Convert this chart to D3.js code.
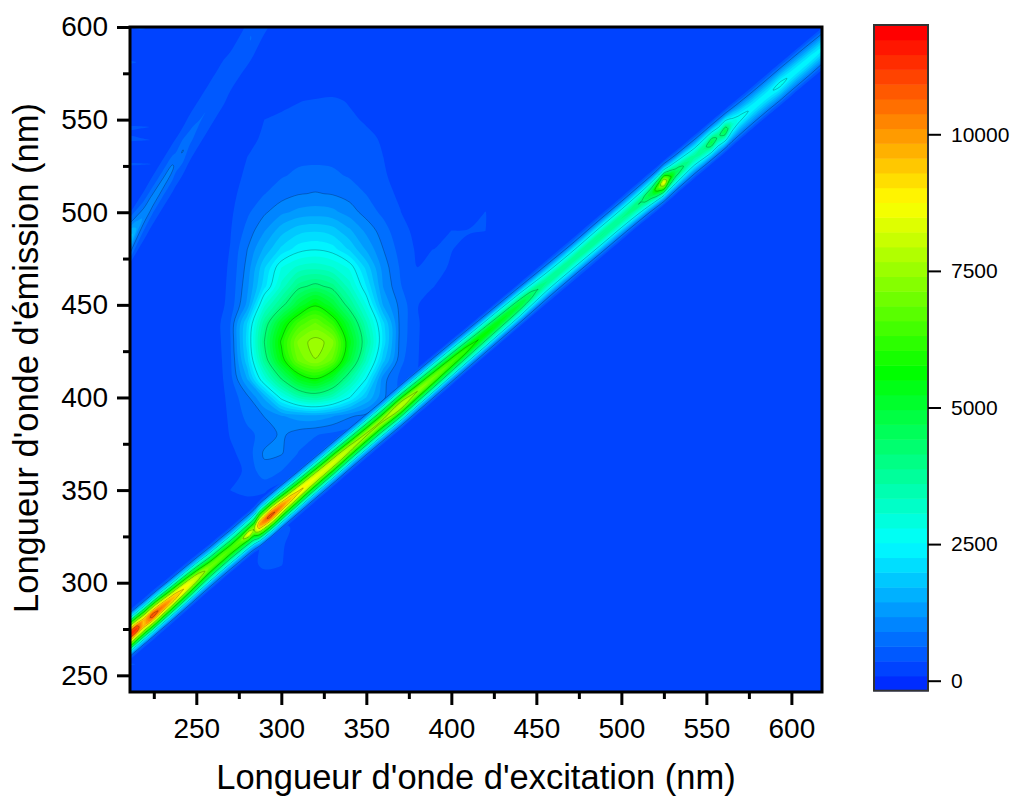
<!DOCTYPE html>
<html>
<head>
<meta charset="utf-8">
<script src="https://cdn.jsdelivr.net/npm/d3@7"></script>
<style>
    body { margin: 0; background: #fff; }
    text { font-family: "Liberation Sans", Arial, sans-serif; fill: #000; }
    .domain { display: none; }
</style>
</head>
<body>
<div id="chart"></div>
<script>
const xTicks = [250, 300, 350, 400, 450, 500, 550, 600];
const xMinorTicks = [225, 275, 325, 375, 425, 475, 525, 575];
const yTicks = [250, 300, 350, 400, 450, 500, 550, 600];
const yMinorTicks = [275, 325, 375, 425, 475, 525, 575];
const colorTicks = [0, 2500, 5000, 7500, 10000];
const paletteStops = ["#0000ff", "#00ffff", "#00ff00", "#ffff00", "#ff0000"];

// broad emission lobe, one row per emission wavelength, one column per excitation wavelength
const blobEx = [260, 270, 280, 290, 300, 310, 320, 330, 340, 350, 360, 370, 380, 390, 400, 410, 420, 430];
const blobEm = [570, 560, 550, 540, 530, 520, 510, 500, 490, 480, 470, 460, 450, 440, 430, 420, 410, 400, 390, 380, 370, 360, 350, 340, 330, 320, 310, 300];
const blobValues = [
    [0, 0, 0, 0, 100, 180, 200, 210, 170, 80, 0, 0, 0, 0, 0, 0, 0, 0],
    [0, 0, 60, 200, 300, 350, 380, 400, 340, 250, 60, 0, 0, 0, 0, 0, 0, 0],
    [0, 40, 200, 358, 400, 420, 430, 440, 400, 330, 150, 30, 0, 0, 0, 0, 0, 0],
    [0, 100, 280, 400, 450, 470, 480, 480, 450, 410, 330, 120, 20, 0, 0, 0, 0, 0],
    [0, 150, 358, 450, 520, 560, 570, 560, 510, 450, 358, 180, 50, 0, 0, 0, 0, 0],
    [20, 220, 420, 520, 600, 680, 700, 680, 600, 500, 400, 220, 100, 20, 0, 0, 0, 0],
    [40, 280, 480, 620, 760, 880, 920, 880, 780, 620, 460, 300, 120, 30, 0, 20, 120, 20],
    [60, 310, 580, 850, 1100, 1250, 1300, 1250, 1050, 780, 560, 370, 130, 40, 20, 100, 370, 60],
    [80, 340, 720, 1150, 1600, 1880, 1950, 1850, 1500, 1100, 750, 430, 300, 100, 362, 380, 362, 20],
    [150, 370, 900, 1500, 2050, 2400, 2500, 2380, 1950, 1400, 900, 520, 320, 362, 370, 270, 50, 0],
    [170, 400, 1000, 1950, 2800, 3150, 3250, 3100, 2750, 1900, 1050, 600, 360, 460, 320, 60, 0, 0],
    [180, 420, 1100, 2150, 3150, 4000, 4300, 4000, 3200, 2250, 1150, 650, 370, 360, 80, 0, 0, 0],
    [180, 450, 1250, 3000, 3950, 5000, 5700, 5000, 3900, 2800, 1400, 800, 380, 120, 0, 0, 0, 0],
    [170, 620, 2000, 3800, 5300, 6400, 6900, 6250, 4900, 3400, 2050, 800, 400, 110, 0, 0, 0, 0],
    [160, 600, 2100, 4150, 5850, 7200, 7550, 7250, 5400, 3750, 2150, 780, 390, 100, 0, 0, 0, 0],
    [150, 560, 1900, 3800, 5500, 6900, 7380, 6800, 5000, 3300, 1800, 700, 380, 90, 0, 0, 0, 0],
    [140, 520, 1450, 2900, 4150, 5300, 5750, 5000, 3700, 2500, 1000, 560, 360, 80, 0, 0, 0, 0],
    [120, 460, 820, 1500, 2650, 3400, 3700, 3300, 2550, 1700, 950, 520, 340, 70, 0, 0, 0, 0],
    [100, 420, 700, 910, 1150, 1300, 1350, 1200, 950, 800, 600, 440, 280, 50, 0, 0, 0, 0],
    [80, 380, 560, 720, 960, 760, 650, 560, 460, 300, 200, 100, 0, 0, 0, 0, 0, 0],
    [70, 300, 480, 950, 930, 620, 480, 350, 250, 100, 0, 0, 0, 0, 0, 0, 0, 0],
    [40, 230, 420, 800, 620, 460, 280, 100, 0, 0, 0, 0, 0, 0, 0, 0, 0, 0],
    [30, 360, 430, 400, 200, 80, 0, 0, 0, 0, 0, 0, 0, 0, 0, 0, 0, 0],
    [0, 180, 220, 150, 60, 0, 0, 0, 0, 0, 0, 0, 0, 0, 0, 0, 0, 0],
    [0, 0, 80, 450, 420, 300, 80, 0, 0, 0, 0, 0, 0, 0, 0, 0, 0, 0],
    [0, 0, 200, 420, 420, 100, 0, 0, 0, 0, 0, 0, 0, 0, 0, 0, 0, 0],
    [0, 0, 250, 420, 380, 60, 0, 0, 0, 0, 0, 0, 0, 0, 0, 0, 0, 0],
    [0, 0, 130, 200, 130, 0, 0, 0, 0, 0, 0, 0, 0, 0, 0, 0, 0, 0]
];

// faint streaks along the left edge of the map
const streakEx = [205, 211, 217, 223, 229];
const streakEm = [602, 599, 596, 585, 581, 577, 549, 546, 543, 539, 536, 529, 526, 523, 259, 256, 253];
const streakValues = [
    [0, 0, 0, 0, 0],
    [0, 300, 420, 300, 0],
    [0, 0, 0, 0, 0],
    [0, 0, 0, 0, 0],
    [450, 450, 300, 0, 0],
    [0, 0, 0, 0, 0],
    [0, 0, 0, 0, 0],
    [450, 450, 420, 350, 50],
    [300, 300, 200, 100, 0],
    [450, 450, 420, 360, 50],
    [0, 0, 0, 0, 0],
    [0, 0, 0, 0, 0],
    [450, 450, 420, 370, 60],
    [0, 0, 0, 0, 0],
    [0, 0, 0, 0, 0],
    [420, 420, 300, 0, 0],
    [0, 0, 0, 0, 0]
];

// main diagonal: crest position per column, then intensity across the crest
const ridgeEx = [205, 211, 215, 219, 224, 229, 235, 241, 247, 252, 258, 264, 270, 276, 281, 284, 287, 293, 298, 303, 309, 316, 323, 332, 342, 358, 370, 380, 389, 400, 415, 428, 440, 450, 456, 470, 487, 500, 512, 518, 522, 525, 528, 532, 538, 543, 549, 553, 557, 561, 565, 569, 577, 587, 593, 600, 610, 618, 625];
const ridgeEm = [267.3, 272, 275.1, 278.2, 282.1, 286, 290.6, 295.3, 300, 303.9, 308.5, 313.2, 317.8, 322.5, 326.4, 328.7, 331.1, 335.7, 339.6, 343.5, 348.1, 353.6, 359, 366, 373.8, 386.2, 395.5, 403.3, 410.3, 418.9, 430.5, 440.6, 449.9, 457.7, 462.4, 473.2, 486.5, 496.6, 505.9, 510.5, 513.6, 516, 518.3, 521.4, 526.1, 530, 534.6, 537.7, 540.8, 543.9, 547.1, 550.2, 556.4, 564.2, 568.8, 574.3, 582, 588.2, 593.7];
const ridgeOffsets = [-15, -12, -9, -6.2, -3.9, -1.7, 0, 1.7, 3.9, 6.2, 9, 12, 15];
const ridgeValues = [
    [690, 2530, 5750, 8280, 10810, 11500, 10810, 8280, 5750, 2530, 690],
    [690, 2530, 5750, 8280, 10810, 11500, 10810, 8280, 5750, 2530, 690],
    [680, 2490, 5650, 8140, 10620, 11300, 10620, 8140, 5650, 2490, 680],
    [640, 2400, 5400, 7800, 9600, 9400, 9600, 7800, 5400, 2400, 640],
    [660, 2420, 5500, 7920, 10340, 11000, 10340, 7920, 5500, 2420, 660],
    [630, 2310, 5250, 7560, 9870, 10500, 9870, 7560, 5250, 2310, 630],
    [590, 2160, 4900, 7060, 9210, 9800, 9210, 7060, 4900, 2160, 590],
    [550, 2020, 4600, 6620, 8650, 9200, 8650, 6620, 4600, 2020, 550],
    [510, 1870, 4250, 6120, 7990, 8500, 7990, 6120, 4250, 1870, 510],
    [470, 1720, 3900, 5620, 7330, 7800, 7330, 5620, 3900, 1720, 470],
    [420, 1540, 3500, 5040, 6580, 7000, 6580, 5040, 3500, 1540, 420],
    [410, 1500, 3400, 4900, 6390, 6800, 6390, 4900, 3400, 1500, 410],
    [400, 1450, 3300, 4750, 6200, 6600, 6200, 4750, 3300, 1450, 400],
    [410, 1500, 3400, 4900, 6390, 6800, 6390, 4900, 3400, 1500, 410],
    [410, 1500, 3500, 5100, 7200, 8800, 7200, 5100, 3500, 1500, 410],
    [430, 1600, 3700, 5330, 6960, 7400, 6960, 5330, 3700, 1600, 430],
    [590, 2160, 4900, 7060, 9210, 9800, 9210, 7060, 4900, 2160, 590],
    [650, 2400, 5450, 7850, 10250, 10900, 10250, 7850, 5450, 2400, 650],
    [630, 2310, 5250, 7560, 9870, 10500, 9870, 7560, 5250, 2310, 630],
    [590, 2160, 4900, 7060, 9210, 9800, 9210, 7060, 4900, 2160, 590],
    [560, 2050, 4650, 6700, 8740, 9300, 8740, 6700, 4650, 2050, 560],
    [530, 1940, 4400, 6340, 8270, 8800, 8270, 6340, 4400, 1940, 530],
    [510, 1870, 4250, 6120, 7990, 8500, 7990, 6120, 4250, 1870, 510],
    [500, 1830, 4150, 5980, 7800, 8300, 7800, 5980, 4150, 1830, 500],
    [470, 1720, 3900, 5620, 7330, 7800, 7330, 5620, 3900, 1720, 470],
    [450, 1650, 3750, 5400, 7050, 7500, 7050, 5400, 3750, 1650, 450],
    [480, 1760, 4000, 5760, 7520, 8000, 7520, 5760, 4000, 1760, 480],
    [440, 1630, 3700, 5330, 6960, 7400, 6960, 5330, 3700, 1630, 440],
    [420, 1540, 3500, 5040, 6580, 7000, 6580, 5040, 3500, 1540, 420],
    [390, 1430, 3250, 4680, 6110, 6500, 6110, 4680, 3250, 1430, 390],
    [350, 1280, 2900, 4180, 5450, 5800, 5450, 4180, 2900, 1280, 350],
    [320, 1190, 2700, 3890, 5080, 5400, 5080, 3890, 2700, 1190, 320],
    [300, 1100, 2500, 3600, 4700, 5000, 4700, 3600, 2500, 1100, 300],
    [300, 1000, 2200, 3100, 3950, 4200, 3950, 3100, 2200, 1000, 300],
    [290, 950, 2050, 2900, 3670, 3900, 3670, 2900, 2050, 950, 290],
    [280, 900, 2000, 2800, 3570, 3800, 3570, 2800, 2000, 900, 280],
    [290, 950, 2050, 2900, 3670, 3900, 3670, 2900, 2050, 950, 290],
    [290, 950, 2050, 2900, 3670, 3900, 3670, 2900, 2050, 950, 290],
    [300, 1000, 2200, 3100, 3950, 4200, 3950, 3100, 2200, 1000, 300],
    [320, 1050, 2400, 3700, 4700, 5000, 4700, 3700, 2400, 1050, 320],
    [340, 1150, 2700, 4500, 6000, 6800, 6000, 4500, 2700, 1150, 340],
    [360, 1250, 3000, 5400, 7500, 8800, 7500, 5400, 3000, 1250, 360],
    [340, 1150, 2600, 4200, 5600, 6300, 5600, 4200, 2600, 1150, 340],
    [300, 1050, 2350, 3400, 4300, 4600, 4300, 3400, 2350, 1050, 300],
    [290, 1000, 2100, 2950, 3760, 4000, 3760, 2950, 2100, 1000, 290],
    [280, 950, 1950, 2750, 3480, 3700, 3480, 2750, 1950, 950, 280],
    [285, 980, 2100, 3000, 3700, 3950, 3700, 3000, 2100, 980, 285],
    [290, 1000, 2200, 3200, 4300, 4800, 4300, 3200, 2200, 1000, 290],
    [290, 1000, 2050, 2900, 3700, 3950, 3700, 2900, 2050, 1000, 290],
    [290, 1000, 2200, 3200, 4300, 4800, 4300, 3200, 2200, 1000, 290],
    [270, 900, 1800, 2400, 3000, 3200, 3000, 2400, 1800, 900, 270],
    [250, 850, 1500, 2100, 2550, 2700, 2550, 2100, 1500, 850, 250],
    [240, 800, 1400, 1900, 2300, 2450, 2300, 1900, 1400, 800, 240],
    [240, 800, 1400, 1900, 2300, 2450, 2300, 1900, 1400, 800, 240],
    [250, 820, 1480, 2000, 2480, 2650, 2480, 2000, 1480, 820, 250],
    [240, 800, 1400, 1900, 2300, 2450, 2300, 1900, 1400, 800, 240],
    [240, 780, 1350, 1850, 2250, 2400, 2250, 1850, 1350, 780, 240],
    [230, 720, 1300, 1800, 2200, 2350, 2200, 1800, 1300, 720, 230],
    [230, 720, 1300, 1800, 2200, 2350, 2200, 1800, 1300, 720, 230]
];

// faint second diagonal in the top left corner
const secondEx = [205, 211, 215, 219, 224, 230, 236, 238, 242, 246, 252, 258, 262, 266, 270, 276, 282, 288, 294];
const secondEm = [476.8, 486, 492, 498, 506, 515, 524, 527, 533, 540, 549, 558, 564, 570, 576, 585, 594, 603, 613];
const secondOffsets = [-16, -13, -7, -3.5, 0, 3.5, 7, 13, 16];
const secondValues = [
    [500, 1200, 1900, 2200, 1900, 1200, 500],
    [450, 1000, 1600, 1900, 1600, 1000, 450],
    [400, 800, 1150, 1400, 1150, 800, 400],
    [370, 680, 940, 1100, 940, 680, 370],
    [360, 640, 890, 1050, 890, 640, 360],
    [360, 620, 870, 1000, 870, 620, 360],
    [360, 600, 840, 950, 840, 600, 360],
    [350, 560, 700, 800, 700, 560, 350],
    [350, 580, 800, 920, 800, 580, 350],
    [345, 520, 640, 700, 640, 520, 345],
    [340, 480, 600, 640, 600, 480, 340],
    [340, 470, 590, 620, 590, 470, 340],
    [340, 460, 570, 600, 570, 460, 340],
    [340, 470, 590, 620, 590, 470, 340],
    [330, 400, 460, 480, 460, 400, 330],
    [330, 410, 470, 500, 470, 410, 330],
    [340, 450, 610, 640, 610, 450, 340],
    [320, 400, 430, 450, 430, 400, 320],
    [320, 390, 420, 440, 420, 390, 320]
];

const levelMin = -183;
const levelMax = 12000;
const bandCount = 45;
const lineBands = [4, 10, 16, 22, 28, 34, 40];

const plot = { left: 130, right: 822, top: 27, bottom: 692 };
const bar = { left: 874, right: 928, top: 25, bottom: 690.7 };

const svg = d3.select("#chart")
    .append("svg")
    .attr("width", 1013)
    .attr("height", 796);

const x = d3.scaleLinear().domain([211, 618]).range([plot.left, plot.right]);
const y = d3.scaleLinear().domain([241, 600]).range([plot.bottom, plot.top]);
const yBar = d3.scaleLinear().domain([levelMin, levelMax]).range([bar.bottom, bar.top]);

const step = (levelMax - levelMin) / bandCount;
const bandColor = d3.scaleLinear()
    .domain([-2, 9.5, 21, 32.5, 44])
    .range(paletteStops);

// grid index -> wavelength, the columns and rows are not evenly spaced
const indexScale = list => d3.scaleLinear().domain(d3.range(list.length)).range(list);

function gridField(exList, emList, rows) {
    const ex = indexScale(exList);
    const em = indexScale(emList);
    return {
        n: exList.length,
        m: emList.length,
        values: rows.flat(),
        project: (i, j) => [ex(i), em(j)]
    };
}

// sheared grid that follows a diagonal: rows are offsets from the crest
function diagonalField(exList, emList, offsets, table) {
    const ex = indexScale(exList);
    const crest = indexScale(emList);
    const off = indexScale(offsets);
    const n = exList.length;
    const m = offsets.length;
    const values = [];
    for (let j = 0; j < m; j++) {
        for (let i = 0; i < n; i++) {
            values.push(j === 0 || j === m - 1 ? 0 : table[i][j - 1]);
        }
    }
    return { n, m, values, project: (i, j) => [ex(i), crest(i) + off(j)] };
}

const fields = [
    gridField(blobEx, blobEm, blobValues),
    gridField(streakEx, streakEm, streakValues),
    diagonalField(secondEx, secondEm, secondOffsets, secondValues),
    diagonalField(ridgeEx, ridgeEm, ridgeOffsets, ridgeValues)
];

const ringLine = d3.line().curve(d3.curveCatmullRomClosed.alpha(0.5));

function contourPath(f, level) {
    const geometry = d3.contours().size([f.n, f.m]).contour(f.values, level);
    return geometry.coordinates.flat().map(ring => {
        const points = ring.slice(0, -1).map(([a, b]) => {
            const p = f.project(
                Math.max(0, Math.min(f.n - 1, a - 0.5)),
                Math.max(0, Math.min(f.m - 1, b - 0.5))
            );
            return [x(p[0]), y(p[1])];
        });
        return ringLine(points);
    }).join("");
}

svg.append("clipPath")
    .attr("id", "plot-clip")
    .append("rect")
    .attr("x", plot.left)
    .attr("y", plot.top)
    .attr("width", plot.right - plot.left)
    .attr("height", plot.bottom - plot.top);

const map = svg.append("g").attr("clip-path", "url(#plot-clip)");

map.append("rect")
    .attr("x", plot.left)
    .attr("y", plot.top)
    .attr("width", plot.right - plot.left)
    .attr("height", plot.bottom - plot.top)
    .attr("fill", bandColor(1));

// low bands first so that the higher ones paint over them
d3.range(2, bandCount).forEach(band => {
    const level = levelMin + band * step;
    fields.forEach(f => {
        const d = contourPath(f, level);
        if (!d) return;
        map.append("path")
            .attr("d", d)
            .attr("fill", bandColor(band));
        if (lineBands.includes(band)) {
            map.append("path")
                .attr("d", d)
                .attr("fill", "none")
                .attr("stroke", "#000")
                .attr("stroke-opacity", 0.35)
                .attr("stroke-width", 0.7);
        }
    });
});

svg.append("rect")
    .attr("x", plot.left)
    .attr("y", plot.top)
    .attr("width", plot.right - plot.left)
    .attr("height", plot.bottom - plot.top)
    .attr("fill", "none")
    .attr("stroke", "#000")
    .attr("stroke-width", 3);

function styleAxis(g, size, tickWidth) {
    g.selectAll("text").style("font-size", size + "px");
    g.selectAll("line").attr("stroke", "#000").attr("stroke-width", tickWidth);
}

svg.append("g")
    .attr("transform", `translate(0,${plot.bottom})`)
    .call(d3.axisBottom(x).tickValues(xTicks).tickSize(13).tickPadding(13).tickFormat(d3.format("d")))
    .call(styleAxis, 28, 3);

svg.append("g")
    .attr("transform", `translate(0,${plot.bottom})`)
    .call(d3.axisBottom(x).tickValues(xMinorTicks).tickSize(7).tickFormat(""))
    .call(styleAxis, 28, 3);

svg.append("g")
    .attr("transform", `translate(${plot.left},0)`)
    .call(d3.axisLeft(y).tickValues(yTicks).tickSize(13).tickPadding(9).tickFormat(d3.format("d")))
    .call(styleAxis, 28, 3);

svg.append("g")
    .attr("transform", `translate(${plot.left},0)`)
    .call(d3.axisLeft(y).tickValues(yMinorTicks).tickSize(7).tickFormat(""))
    .call(styleAxis, 28, 3);

svg.append("text")
    .attr("x", 476)
    .attr("y", 789)
    .attr("text-anchor", "middle")
    .style("font-size", "34.5px")
    .text("Longueur d'onde d'excitation (nm)");

svg.append("text")
    .attr("transform", `translate(38,358) rotate(-90)`)
    .attr("text-anchor", "middle")
    .style("font-size", "34.5px")
    .text("Longueur d'onde d'émission (nm)");

// colour bar
svg.append("g")
    .selectAll("rect")
    .data(d3.range(bandCount))
    .enter()
    .append("rect")
    .attr("x", bar.left)
    .attr("y", d => yBar(levelMin + (d + 1) * step))
    .attr("width", bar.right - bar.left)
    .attr("height", step * (bar.bottom - bar.top) / (levelMax - levelMin) + 0.5)
    .attr("fill", d => bandColor(d));

svg.append("rect")
    .attr("x", bar.left)
    .attr("y", bar.top)
    .attr("width", bar.right - bar.left)
    .attr("height", bar.bottom - bar.top)
    .attr("fill", "none")
    .attr("stroke", "#333")
    .attr("stroke-width", 2);

svg.append("g")
    .attr("transform", `translate(${bar.right},0)`)
    .call(d3.axisRight(yBar).tickValues(colorTicks).tickSize(13).tickPadding(10).tickFormat(d3.format("d")))
    .call(styleAxis, 21, 2);
</script>
</body>
</html>
